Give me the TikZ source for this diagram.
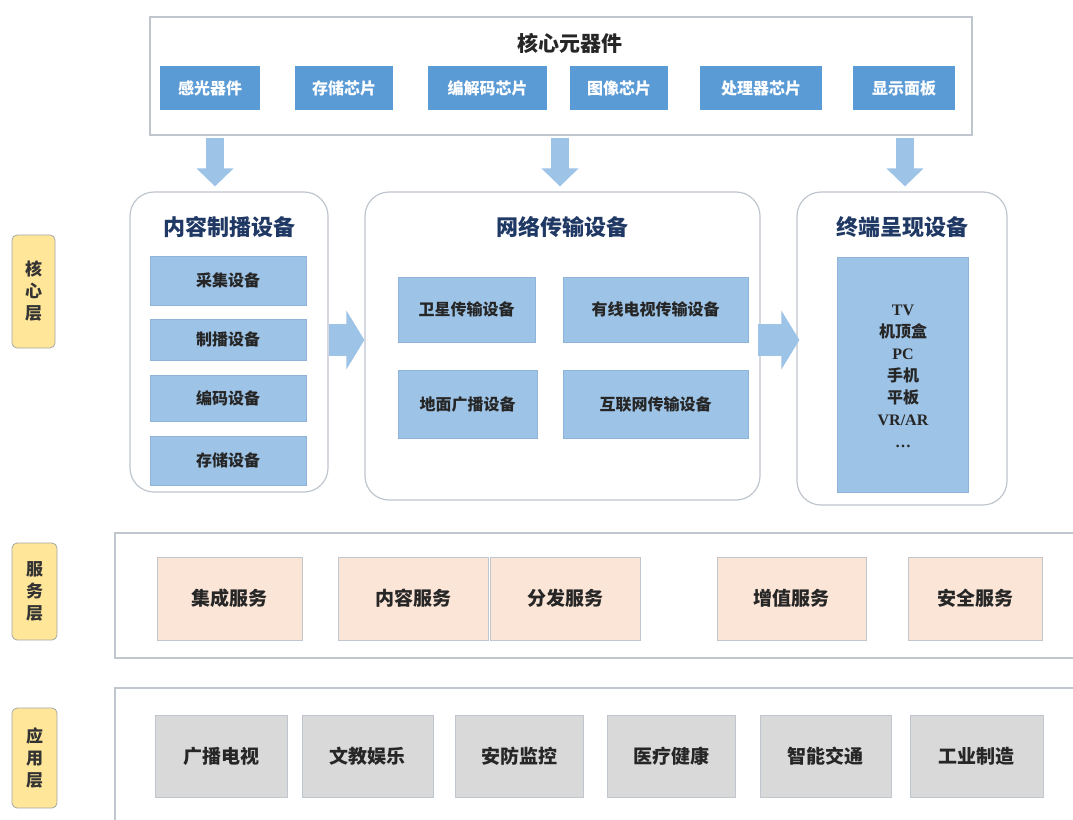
\documentclass[tikz,border=0pt]{standalone}
\usepackage{fontspec}
\setmainfont{Noto Sans CJK SC}
\newfontfamily\latinserif{Liberation Serif}
\usetikzlibrary{arrows.meta}
\definecolor{chipblue}{HTML}{5B9BD5}
\definecolor{subblue}{HTML}{9DC3E6}
\definecolor{subborder}{HTML}{8FB3D9}
\definecolor{navy}{HTML}{1F3864}
\definecolor{peach}{HTML}{FBE5D6}
\definecolor{appgray}{HTML}{D9D9D9}
\definecolor{boxborder}{HTML}{BFC6CE}
\definecolor{layeryellow}{HTML}{FFE699}
\definecolor{arrowblue}{HTML}{9DC3E6}
\newcommand\bx[7]{\node[#1, minimum width={#5-#3}, minimum height={#6-#4}] (#2) at ({(#3+#5)/2},{(#4+#6)/2}) {#7};}
\tikzset{
  frame/.style={draw=boxborder, line width=1.2pt, inner sep=0pt},
  group/.style={draw=boxborder, line width=1.2pt, rounded corners=24pt, inner sep=0pt},
  chip/.style={fill=chipblue, draw=none, inner sep=0pt, text=white, font=\fontsize{16}{19}\selectfont\bfseries},
  subbox/.style={fill=subblue, draw=subborder, line width=0.6pt, inner sep=0pt, text=black!85, font=\fontsize{16}{19}\selectfont\bfseries},
  svcbox/.style={fill=peach, draw=boxborder, line width=0.8pt, inner sep=0pt, text=black!85, font=\fontsize{19}{22}\selectfont\bfseries},
  appbox/.style={fill=appgray, draw=boxborder, line width=0.8pt, inner sep=0pt, text=black!85, font=\fontsize{19}{22}\selectfont\bfseries},
  layer/.style={fill=layeryellow, draw=black!35, line width=0.8pt, rounded corners=5pt, inner sep=0pt, text=black!80, font=\fontsize{17}{22}\selectfont\bfseries, align=center},
  gtitle/.style={text=navy, font=\fontsize{22}{26}\selectfont\bfseries},
  downarrow/.style={draw=arrowblue, line width=18pt, -{Triangle[width=36pt,length=18pt]}},
  rightarrow/.style={draw=arrowblue, line width=32pt, -{Triangle[width=58pt,length=18pt]}},
}
\begin{document}
\begin{tikzpicture}[x=1pt,y=-1pt]
\useasboundingbox (0,0) rectangle (1073,819);
\fill[white] (0,0) rectangle (1073,819);

% top component box
\bx{frame}{top}{150}{17}{972}{135}{}
\node[font=\fontsize{21}{24}\selectfont\bfseries, text=black!85] (toptitle) at (570,43) {核心元器件};
\bx{chip}{c1}{160}{66}{260}{110}{感光器件}
\bx{chip}{c2}{295}{66}{393}{110}{存储芯片}
\bx{chip}{c3}{428}{66}{547}{110}{编解码芯片}
\bx{chip}{c4}{570}{66}{668}{110}{图像芯片}
\bx{chip}{c5}{700}{66}{822}{110}{处理器芯片}
\bx{chip}{c6}{853}{66}{955}{110}{显示面板}

% groups
\bx{group}{g1}{130}{192}{328}{492}{}
\node[gtitle] (g1t) at (229,227) {内容制播设备};
\bx{subbox}{s1}{150}{256}{306}{305}{采集设备}
\bx{subbox}{s2}{150}{319}{306}{360}{制播设备}
\bx{subbox}{s3}{150}{375}{306}{421}{编码设备}
\bx{subbox}{s4}{150}{436}{306}{485}{存储设备}

\bx{group}{g2}{365}{192}{760}{500}{}
\node[gtitle] (g2t) at (562,227) {网络传输设备};
\bx{subbox}{n1}{398}{277}{535}{342}{卫星传输设备}
\bx{subbox}{n2}{563}{277}{748}{342}{有线电视传输设备}
\bx{subbox}{n3}{398}{370}{537}{438}{地面广播设备}
\bx{subbox}{n4}{563}{370}{748}{438}{互联网传输设备}

\bx{group}{g3}{797}{192}{1007}{505}{}
\node[gtitle] (g3t) at (902,227) {终端呈现设备};
\bx{subbox}{t1}{837}{257}{968}{492}{}
\node[font=\fontsize{16}{22}\selectfont\bfseries, text=black!85, align=center] (tlist) at (903,376)
  {{\latinserif TV}\\机顶盒\\{\latinserif PC}\\手机\\平板\\{\latinserif VR/AR}\\{\latinserif …}};

% block arrows
\coordinate (ax1) at (215,0);
\coordinate (ax2) at (560,0);
\coordinate (ax3) at (905,0);
\draw[downarrow] ([yshift=-2pt]top.south -| ax1) -- ([yshift=5pt]g1.north -| ax1);
\draw[downarrow] ([yshift=-2pt]top.south -| ax2) -- ([yshift=5pt]g2.north -| ax2);
\draw[downarrow] ([yshift=-2pt]top.south -| ax3) -- ([yshift=5pt]g3.north -| ax3);
\coordinate (ay1) at (0,340);
\draw[rightarrow] (g1.east |- ay1) -- (g2.west |- ay1);
\draw[rightarrow] ([xshift=-3pt]g2.east |- ay1) -- ([xshift=3pt]g3.west |- ay1);

% layer labels
\bx{layer}{L1}{12}{235}{55}{348}{核\\心\\层}
\bx{layer}{L2}{12}{543}{57}{640}{服\\务\\层}
\bx{layer}{L3}{12}{708}{57}{808}{应\\用\\层}

% service band
\draw[boxborder, line width=1.2pt] (1075,533) -- (115,533) -- (115,658) -- (1075,658);
\bx{svcbox}{v1}{157}{557}{302}{640}{集成服务}
\bx{svcbox}{v2}{338}{557}{488}{640}{内容服务}
\bx{svcbox}{v3}{490}{557}{640}{640}{分发服务}
\bx{svcbox}{v4}{717}{557}{866}{640}{增值服务}
\bx{svcbox}{v5}{908}{557}{1042}{640}{安全服务}

% application band
\draw[boxborder, line width=1.2pt] (1075,688) -- (115,688) -- (115,821);
\bx{appbox}{p1}{155}{715}{287}{797}{广播电视}
\bx{appbox}{p2}{302}{715}{433}{797}{文教娱乐}
\bx{appbox}{p3}{455}{715}{583}{797}{安防监控}
\bx{appbox}{p4}{607}{715}{735}{797}{医疗健康}
\bx{appbox}{p5}{760}{715}{891}{797}{智能交通}
\bx{appbox}{p6}{910}{715}{1043}{797}{工业制造}
\end{tikzpicture}
\end{document}
